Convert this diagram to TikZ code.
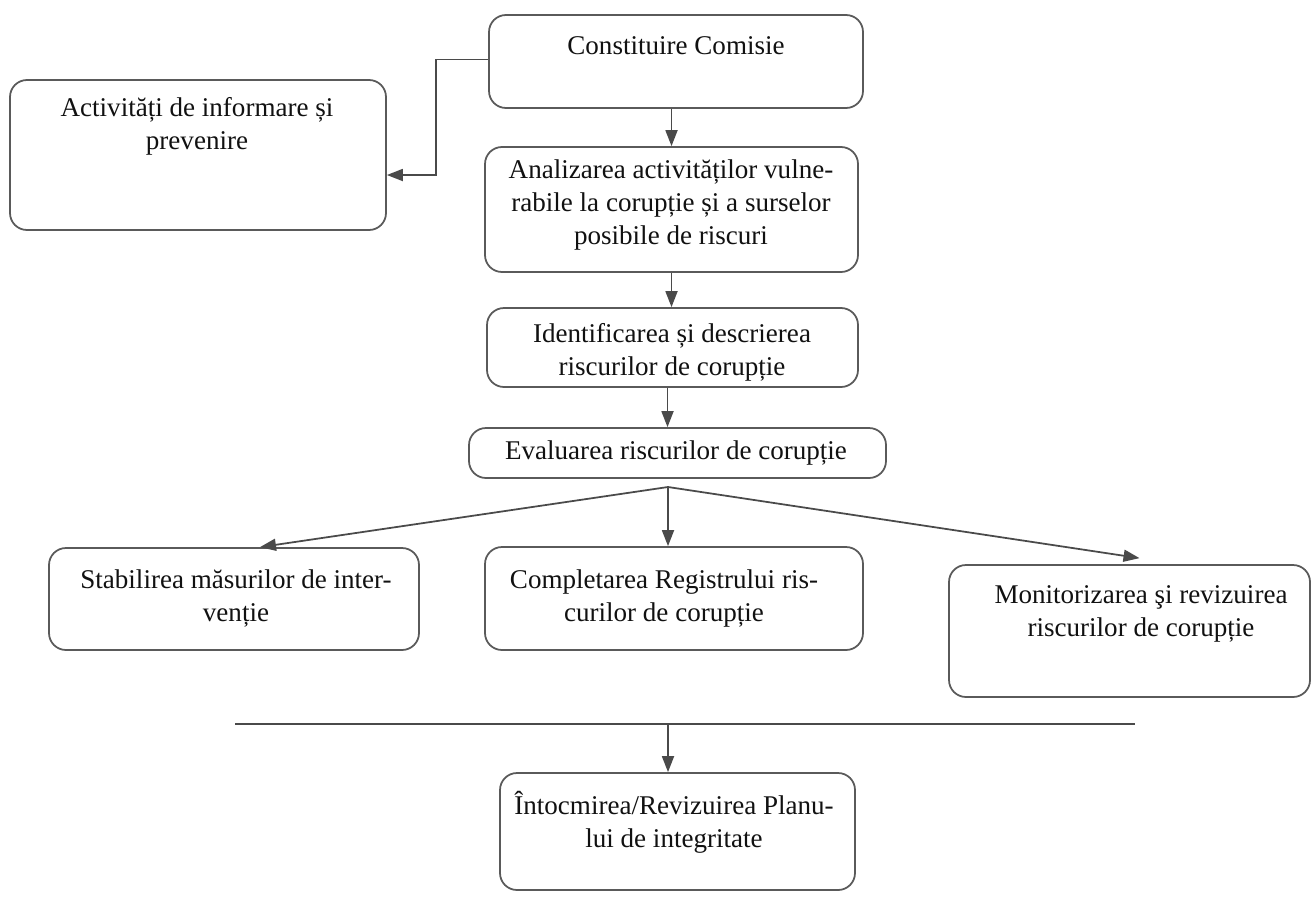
\documentclass[tikz,border=0pt]{standalone}
\usepackage{fontspec}
\setmainfont{Liberation Serif}
\usetikzlibrary{arrows.meta,calc}
\definecolor{boxgray}{HTML}{5A5A5A}
\definecolor{linegray}{HTML}{4A4A4A}
\definecolor{txtcol}{HTML}{111111}
\begin{document}
\begin{tikzpicture}[x=0.02cm,y=-0.02cm,
  box/.style={draw=boxgray, line width=1pt, rounded corners=0.34cm, inner sep=0pt},
  txt/.style={align=center, font=\fontsize{15.4}{18.8}\selectfont, inner sep=0pt, text=txtcol},
  arr/.style={draw=linegray, line width=1pt, -{Triangle[length=0.32cm,width=0.24cm]}},
  ln/.style={draw=linegray, line width=1pt}]
\fill[white] (0,0) rectangle (1314,920);
\useasboundingbox (0,0) rectangle (1314,920);

% boxes
\node[box, minimum width=374*0.02cm, minimum height=93*0.02cm]  (b1) at (676,61.5) {};
\node[box, minimum width=376*0.02cm, minimum height=150*0.02cm] (b2) at (198,155) {};
\node[box, minimum width=373*0.02cm, minimum height=125*0.02cm] (b3) at (671.5,209.5) {};
\node[box, minimum width=371*0.02cm, minimum height=79*0.02cm]  (b4) at (672.5,347.5) {};
\node[box, minimum width=417*0.02cm, minimum height=50*0.02cm]  (b5) at (677.5,453) {};
\node[box, minimum width=370*0.02cm, minimum height=102*0.02cm] (b6) at (234,599) {};
\node[box, minimum width=378*0.02cm, minimum height=103*0.02cm] (b7) at (674,598.5) {};
\node[box, minimum width=361*0.02cm, minimum height=132*0.02cm] (b8) at (1129.5,631) {};
\node[box, minimum width=355*0.02cm, minimum height=117*0.02cm] (b9) at (677.5,831.5) {};

% texts
\node[txt] (t1) at (676,46) {Constituire Comisie};
\node[txt] (t2) at (197,126) {Activități de informare și\\prevenire};
\node[txt] (t3) at (671,205) {Analizarea activităților vulne-\\rabile la corupție și a surselor\\posibile de riscuri};
\node[txt] (t4) at (672,352) {Identificarea și descrierea\\riscurilor de corupție};
\node[txt] (t5) at (676,453) {Evaluarea riscurilor de corupție};
\node[txt] (t6) at (236,598) {Stabilirea măsurilor de inter-\\venție};
\node[txt] (t7) at (664,598) {Completarea Registrului ris-\\curilor de corupție};
\node[txt] (t8) at (1141,614) {Monitorizarea şi revizuirea\\riscurilor de corupție};
\node[txt] (t9) at (674,822) {Întocmirea/Revizuirea Planu-\\lui de integritate};

% connectors
\draw[arr] (b3.north |- b1.south) -- (b3.north);
\coordinate (elbow) at (436,175);
\draw[arr] ($(b1.west)+(0,-2)$) -| (elbow) -- (b2.east |- elbow);
\draw[arr] (b3.south) -- (b3.south |- b4.north);
\draw[arr] ($(b4.south)+(-5,0)$) -- ($(b4.south |- b5.north)+(-5,0)$);
\coordinate (fork) at (668,487);
\draw[arr] (fork) -- ($(b6.north)+(26,0)$);
\draw[arr] (fork) -- (fork |- b7.north);
\draw[arr] (fork) -- ($(b8.north)+(10,-6)$);
\coordinate (hl) at (235,724);
\coordinate (hr) at (1135,724);
\draw[ln] (hl) -- (hr);
\coordinate (hm) at (668,724);
\draw[arr] (hm) -- (hm |- b9.north);
\end{tikzpicture}
\end{document}
